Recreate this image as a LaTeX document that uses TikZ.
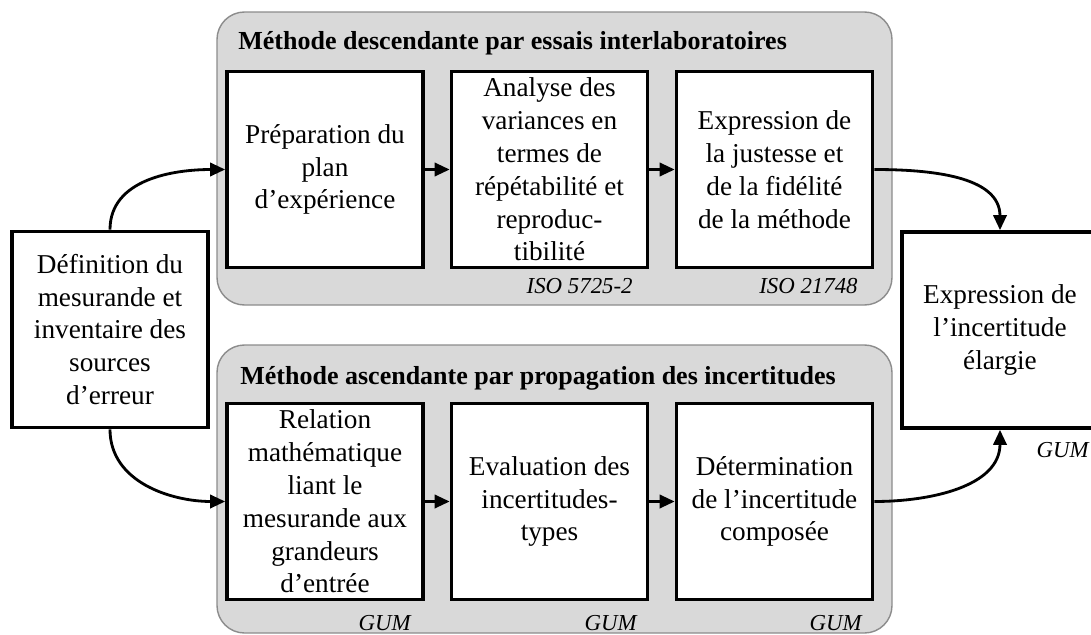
\documentclass[tikz,border=0pt]{standalone}
\usepackage{fontspec}
\setmainfont{Liberation Serif}
\usetikzlibrary{arrows.meta}

\begin{document}
\begin{tikzpicture}[
    etape/.style={draw, line width=2.1pt, fill=white, minimum width=3.92cm, minimum height=3.92cm,
        align=center, inner sep=1pt, font=\fontsize{15.5}{18.7}\selectfont},
    cadre/.style={draw=black!45, fill=black!15, rounded corners=0.55cm, line width=0.8pt},
    titre/.style={anchor=west, inner sep=0pt, font=\fontsize{14.8}{18}\selectfont\bfseries},
    norme/.style={anchor=east, inner sep=0pt, font=\fontsize{13}{15}\selectfont\itshape},
    fleche/.style={line width=1.6pt, -{Triangle[length=8.5pt,width=7.5pt]}}
]
    \useasboundingbox (0,0) rectangle (21.82,-12.7);

    % les deux methodes
    \draw [cadre] (4.34,-0.24) rectangle (17.84,-6.10);
    \draw [cadre] (4.34,-6.90) rectangle (17.84,-12.66);
    \node [titre] (titreA) at (4.76,-0.87) {Méthode descendante par essais interlaboratoires};
    \node [titre] (titreB) at (4.80,-7.56) {Méthode ascendante par propagation des incertitudes};

    \node [etape] (def) at (2.2,-6.59) {Définition du\\mesurande et\\inventaire des\\sources\\d’erreur};
    \node [etape] (exp) at (20.0,-6.6) {Expression de\\l’incertitude\\élargie};

    \node [etape] (a1) at (6.5,-3.39) {Préparation du\\plan\\d’expérience};
    \node [etape] (a2) at (10.99,-3.39) {Analyse des\\variances en\\termes de\\répétabilité et\\reproduc-\\tibilité};
    \node [etape] (a3) at (15.49,-3.39) {Expression de\\la justesse et\\de la fidélité\\de la méthode};

    \node [etape] (b1) at (6.5,-10.03) {Relation\\mathématique\\liant le\\mesurande aux\\grandeurs\\d’entrée};
    \node [etape] (b2) at (10.99,-10.03) {Evaluation des\\incertitudes-\\types};
    \node [etape] (b3) at (15.49,-10.03) {Détermination\\de l’incertitude\\composée};

    % references normatives
    \node [norme] (isoA) at (12.66,-5.72) {ISO 5725-2};
    \node [norme] (isoB) at (17.16,-5.72) {ISO 21748};
    \node [norme] (gum1) at (8.22,-12.46) {GUM};
    \node [norme] (gum2) at (12.74,-12.46) {GUM};
    \node [norme] (gum3) at (17.24,-12.46) {GUM};
    \node [norme] (gum4) at (21.78,-9.0) {GUM};

    \draw [fleche] (def.north) to[out=90,in=180] (a1.west);
    \draw [fleche] (def.south) to[out=-90,in=180] (b1.west);
    \draw [fleche] (a1) -- (a2);
    \draw [fleche] (a2) -- (a3);
    \draw [fleche] (b1) -- (b2);
    \draw [fleche] (b2) -- (b3);
    \draw [fleche] (a3.east) to[out=0,in=90] (exp.north);
    \draw [fleche] (b3.east) to[out=0,in=-90] (exp.south);

\end{tikzpicture}
\end{document}
